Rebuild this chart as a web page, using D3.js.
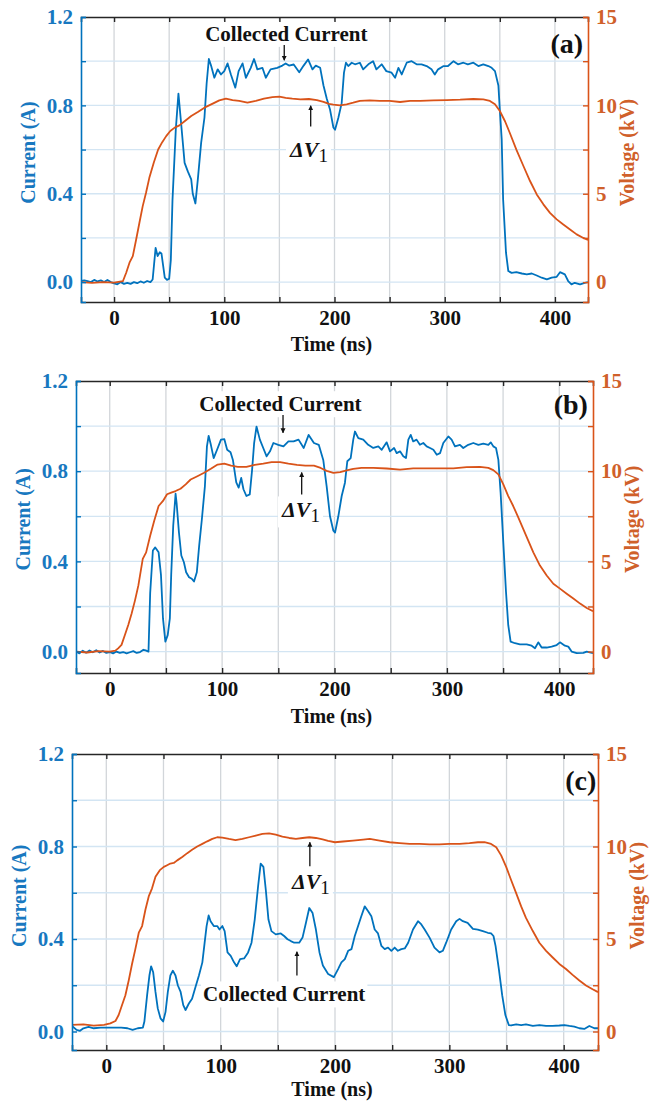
<!DOCTYPE html>
<html>
<head>
<meta charset="utf-8">
<script src="https://cdn.jsdelivr.net/npm/d3@7"></script>
<style>
  html, body { margin: 0; padding: 0; background: #fff; }
  svg text { font-family: "Liberation Serif", "Times New Roman", Times, serif; font-weight: bold; }
</style>
</head>
<body>
<svg id="fig" width="657" height="1103"></svg>
<script>
// ---- measured traces: [time (ns), collected current (A)] and [time (ns), voltage (kV)] ----
const currentA = [[-30,0.005],[-27,0.008],[-24,0.004],[-21,0.0],[-18,0.01],[-15,0.003],[-12,0.008],[-9,0.0],[-6,0.01],[-3,0.0],[0,-0.006],[3,-0.01],[6,0.0],[9,-0.008],[12,-0.003],[15,-0.008],[18,0.0],[21,-0.005],[24,0.003],[27,-0.003],[30,0.005],[33,0.0],[35,0.012],[37.7,0.155],[39.5,0.118],[41.5,0.135],[43,0.13],[46,0.02],[48,0.01],[50,0.015],[51.5,0.1],[53,0.37],[56,0.69],[58.4,0.853],[61,0.71],[64,0.54],[67,0.5],[70,0.465],[71.4,0.40],[73.8,0.356],[76,0.465],[79,0.63],[82,0.744],[84,0.9],[86,1.01],[88,0.98],[91,0.925],[94,0.963],[97,0.94],[100,0.955],[103,0.99],[106,0.94],[110,0.88],[113,0.955],[116.6,0.99],[119.6,0.925],[124,0.97],[127,1.01],[130,0.963],[134.6,0.97],[137.7,0.925],[142,0.963],[148,0.97],[152.7,0.98],[155.7,0.99],[158.7,0.98],[163,0.985],[168,0.95],[172,0.98],[176,1.008],[180,0.963],[183,0.98],[187,0.97],[190,0.89],[193,0.83],[196,0.78],[199,0.70],[200.5,0.69],[203.5,0.744],[206.5,0.81],[208.6,0.948],[210.4,0.993],[212.5,0.978],[215.6,0.993],[218.6,0.986],[223,0.993],[226,0.963],[230.7,0.986],[235,1.0],[238,0.963],[242.8,0.986],[247,0.955],[251.8,0.948],[255,0.925],[258,0.97],[261,0.94],[265.5,0.993],[270,1.0],[274.5,0.986],[279,0.986],[283.6,0.978],[288,0.963],[291,0.94],[294,0.963],[299,0.978],[303,0.978],[308,1.0],[312,0.986],[317,0.993],[321,0.986],[326,0.993],[330.5,0.978],[335,0.986],[339.6,0.978],[342.6,0.97],[345.6,0.955],[348.7,0.89],[350,0.78],[351.7,0.646],[353,0.374],[355.6,0.133],[357.7,0.05],[360.7,0.042],[365,0.045],[370,0.039],[374.5,0.035],[379,0.039],[383.5,0.03],[388,0.02],[392.7,0.012],[397,0.02],[401.6,0.024],[404.6,0.045],[409,0.035],[412,0.005],[415,-0.01],[418,-0.003],[422.8,-0.01],[427,-0.003],[430,0]];

const voltageA = [[-30,0.0],[-20,-0.04],[-10,0.0],[0,-0.03],[8,0.05],[11,0.53],[14,1.1],[17,1.47],[20,2.4],[23,3.36],[26,4.3],[29,5.06],[32,5.9],[36,6.75],[40,7.5],[43.7,7.92],[47.3,8.26],[51,8.55],[55,8.74],[59.3,8.87],[64,9.1],[70,9.4],[76,9.62],[82,9.87],[89.5,10.1],[95.5,10.28],[101.5,10.38],[107.5,10.3],[113.5,10.25],[121,10.15],[128.6,10.26],[136,10.38],[143.7,10.47],[150,10.49],[155.7,10.43],[161.7,10.38],[169,10.34],[176.8,10.36],[184,10.3],[190,10.2],[195,10.08],[199,10.04],[205,10.0],[211,10.06],[217,10.15],[223,10.25],[232,10.28],[241,10.26],[250,10.25],[259.5,10.19],[268.5,10.25],[277.6,10.26],[289.7,10.28],[301.8,10.3],[314,10.32],[326,10.36],[335,10.34],[341,10.25],[345.6,10.06],[350,9.68],[354.7,9.1],[359,8.45],[365,7.5],[371.4,6.57],[377.4,5.72],[383.5,4.96],[389.5,4.4],[395.5,3.92],[401.6,3.55],[407.6,3.26],[413.7,2.98],[419.7,2.7],[425.8,2.5],[430,2.38]];

const currentB = [[-30,0.0],[-27,-0.008],[-24,0.004],[-21,-0.005],[-18,0.005],[-15,-0.003],[-12,0.006],[-9,-0.004],[-6,0.003],[-3,-0.006],[0,-0.002],[3,-0.008],[6,0.0],[9,-0.006],[12,-0.002],[15,-0.008],[18,-0.003],[21,0.002],[24,-0.006],[27,-0.002],[30,0.008],[32,0.005],[34.5,0.0],[36,0.26],[38.4,0.448],[40.5,0.462],[43.5,0.44],[45.6,0.34],[47.4,0.147],[49.5,0.044],[51.6,0.073],[53.5,0.147],[54.7,0.34],[56.5,0.558],[58.6,0.7],[59.5,0.66],[61.6,0.528],[63.7,0.426],[66,0.396],[68,0.352],[70.6,0.33],[73,0.323],[75,0.311],[77.5,0.352],[79.6,0.47],[82,0.587],[84.7,0.734],[86.5,0.91],[88,0.957],[90,0.917],[92.5,0.858],[95.5,0.895],[99,0.94],[102,0.942],[104.5,0.895],[107.5,0.884],[109.6,0.85],[112.6,0.75],[114.7,0.727],[117,0.77],[119,0.72],[121.6,0.69],[124.6,0.697],[126.7,0.807],[128.5,0.925],[130.6,0.998],[133.6,0.94],[136.6,0.903],[139.6,0.866],[142.6,0.888],[145.6,0.925],[150,0.917],[154.6,0.91],[159,0.932],[163.6,0.932],[168,0.94],[172.6,0.903],[177,0.961],[181.7,0.925],[186,0.917],[190,0.85],[193,0.734],[196,0.6],[199,0.536],[200.5,0.528],[203.4,0.6],[206.4,0.69],[209.3,0.749],[211.4,0.844],[214.4,0.858],[216.7,0.94],[218.2,0.976],[221.2,0.947],[225.6,0.94],[230,0.917],[234.5,0.903],[239,0.91],[242,0.895],[246.4,0.928],[249.4,0.888],[253,0.903],[255.3,0.88],[258.3,0.888],[261.2,0.866],[263.6,0.858],[265.7,0.94],[267.8,0.961],[270,0.932],[273,0.94],[276,0.917],[279,0.925],[282,0.91],[285,0.903],[288,0.895],[291,0.873],[293.9,0.88],[296.8,0.925],[301.3,0.954],[304.2,0.94],[307.2,0.91],[311.6,0.917],[314.6,0.903],[319,0.917],[323.5,0.925],[328,0.917],[332.4,0.922],[336.9,0.917],[339,0.928],[341.3,0.91],[343.7,0.903],[345.8,0.85],[347.8,0.705],[350.2,0.484],[352.6,0.264],[354.6,0.117],[356.7,0.044],[360.6,0.037],[365,0.032],[371,0.032],[375.4,0.026],[378.4,0.015],[381.3,0.041],[384.3,0.018],[388.8,0.018],[393.2,0.022],[397.7,0.029],[400.6,0.041],[405,0.026],[408,0.022],[411,0.0],[415.5,-0.007],[421.4,-0.006],[424.4,0.0],[430,-0.007]];

const voltageB = [[-30,0.0],[-20,-0.05],[-10,0.02],[0,0.0],[5,0.05],[7.5,0.18],[10.5,0.37],[13.5,0.92],[16.5,1.47],[19.5,2.11],[22.5,2.84],[25.5,3.67],[29.4,5.14],[32.4,5.5],[36,6.42],[39.6,7.25],[43.5,8.07],[47.4,8.35],[51,8.72],[54.7,8.81],[58.6,8.9],[63,9.03],[67.6,9.27],[72,9.54],[78,9.72],[84,9.91],[90,10.13],[96,10.37],[102,10.42],[108,10.31],[114,10.24],[121.6,10.24],[129,10.35],[136.6,10.42],[144,10.5],[151.6,10.5],[159,10.42],[166.6,10.35],[174,10.31],[181.7,10.31],[187.7,10.18],[193,10.02],[199,9.91],[205,9.95],[210.8,10.04],[216.7,10.13],[224,10.18],[234.5,10.18],[246.4,10.15],[258.3,10.09],[270,10.16],[282,10.16],[294,10.16],[305.7,10.16],[317.6,10.22],[329.4,10.24],[336.9,10.18],[341.3,10.06],[345.8,9.82],[350.2,9.27],[354.6,8.62],[359,8.07],[363.6,7.43],[368,6.79],[372.4,6.15],[376.9,5.5],[382.8,4.77],[388.8,4.22],[394.7,3.76],[400.6,3.49],[406.6,3.21],[412.5,2.94],[418.5,2.66],[424.4,2.42],[430,2.24]];

const currentC = [[-30,0.024],[-26,0.007],[-23,0.003],[-20,0.014],[-15.5,0.02],[-11,0.014],[-5,0.017],[1,0.017],[7,0.017],[13,0.017],[18.5,0.014],[23,0.007],[27.5,0.014],[32,0.017],[33.3,0.043],[35.7,0.157],[37.7,0.242],[39.2,0.282],[41,0.256],[43,0.171],[45,0.1],[47.4,0.057],[49.7,0.043],[51.8,0.085],[53.8,0.171],[56,0.242],[58.2,0.263],[60.5,0.242],[62.6,0.199],[65,0.171],[67.3,0.114],[69.3,0.093],[72.2,0.121],[75,0.142],[78,0.192],[81,0.242],[84,0.299],[86,0.384],[87.7,0.456],[89.5,0.502],[91.2,0.477],[94,0.456],[97,0.456],[99,0.441],[101.5,0.456],[103.5,0.434],[106,0.342],[108.8,0.327],[111.7,0.299],[114,0.282],[117,0.313],[120.5,0.316],[124,0.342],[127,0.384],[129.8,0.484],[132.7,0.626],[135,0.726],[137.4,0.712],[139.5,0.612],[141.8,0.484],[144.4,0.434],[148.2,0.42],[152.6,0.424],[155.5,0.413],[158.5,0.399],[161.4,0.391],[164.3,0.384],[168.7,0.384],[171.6,0.406],[174.6,0.47],[177.5,0.534],[180.4,0.512],[183.3,0.441],[186.5,0.34],[189.4,0.285],[194,0.249],[199,0.235],[202.7,0.27],[205.6,0.299],[208.6,0.313],[211.5,0.349],[214.4,0.356],[217.3,0.413],[220.2,0.456],[223,0.498],[226,0.541],[229,0.52],[231.8,0.498],[234.7,0.441],[237.6,0.424],[240.6,0.37],[243.5,0.356],[246.4,0.363],[249.3,0.349],[252.2,0.363],[255,0.349],[258,0.356],[261,0.359],[264,0.384],[268.2,0.441],[272.6,0.477],[275.5,0.463],[278.4,0.441],[282.7,0.406],[287,0.363],[291.4,0.342],[294.3,0.349],[297.2,0.384],[301.6,0.441],[306,0.477],[308.9,0.487],[311.8,0.477],[316,0.47],[320.6,0.444],[324.9,0.441],[329.3,0.434],[333.6,0.427],[336.5,0.424],[338.6,0.413],[340.4,0.37],[343.3,0.27],[346.2,0.157],[349,0.071],[352,0.028],[354,0.026],[358.5,0.031],[362.8,0.028],[367,0.031],[373,0.024],[378.7,0.028],[384.6,0.024],[390.4,0.024],[396.2,0.026],[400.6,0.028],[405,0.024],[409.3,0.021],[413.7,0.014],[418,0.011],[422.4,0.024],[426.8,0.014],[430,0.014]];

const voltageC = [[-30,0.36],[-20,0.39],[-11,0.32],[-2,0.36],[3.5,0.44],[8,0.57],[10.8,0.89],[13.7,1.42],[16.7,1.96],[19.6,2.76],[22.5,3.65],[25.4,4.45],[28.4,5.34],[31.3,5.7],[34.2,6.58],[37.1,7.3],[40,7.74],[43,8.36],[46.8,8.72],[50.3,8.9],[53.2,8.99],[56,9.08],[59,9.11],[62,9.25],[66.4,9.43],[70.8,9.64],[75,9.82],[79.5,10.0],[84,10.14],[88.3,10.28],[92.7,10.41],[97,10.5],[101.5,10.48],[107.3,10.41],[113,10.35],[119,10.41],[124.8,10.5],[130.7,10.59],[136.5,10.68],[142.4,10.71],[148.2,10.64],[154,10.53],[160,10.46],[165.8,10.41],[171.6,10.46],[177.5,10.5],[183.3,10.46],[189.2,10.38],[194,10.3],[200,10.23],[207,10.27],[215.8,10.32],[224.6,10.37],[230.4,10.41],[239,10.32],[247.8,10.23],[256.5,10.18],[265.3,10.14],[274,10.14],[282.7,10.11],[291.4,10.11],[300,10.14],[309,10.14],[317.6,10.18],[325,10.23],[330.7,10.23],[336.5,10.14],[341,9.96],[345.3,9.52],[349.7,8.9],[354,8.19],[358.5,7.47],[362.8,6.76],[367,6.14],[373,5.43],[378.7,4.8],[384.6,4.36],[390.4,4.0],[396.2,3.65],[402,3.38],[407.8,3.06],[413.7,2.76],[419.5,2.49],[425.3,2.28],[430,2.13]];

// ---- axes ----
const timeDomain = [-30, 430];
const timeTicks = [0, 50, 100, 150, 200, 250, 300, 350, 400];
const timeLabels = [0, 100, 200, 300, 400];
const currentTicks = [0, 0.2, 0.4, 0.6, 0.8, 1.0, 1.2];
const currentLabels = [0, 0.4, 0.8, 1.2];
const currentMax = 1.2;
const voltagePerAmp = 12.5;           // 1.2 A  <->  15 kV
const voltageTicks = [0, 2.5, 5, 7.5, 10, 12.5, 15];
const voltageLabels = [0, 5, 10, 15];

const BLUE = "#0072BD", ORANGE = "#D95319";
const BLUE_TXT = "#1878c0", ORANGE_TXT = "#d0602a";

// ---- panel layout (pixel boxes) and annotation anchors (data coordinates) ----
const panels = [
  { tag: "(a)", current: currentA, voltage: voltageA, currentMin: -0.09,
    box: { left: 81, right: 588, top: 17, bottom: 302 }, timeTitleY: 351,
    note: { text: [82.7, 1.092], arrow: [154.4, 1.073, 1.004], dv: [159.6, 0.568], dvArrow: [178.4, 0.704, 0.798], tagAt: [425.5, 1.037] } },
  { tag: "(b)", current: currentB, voltage: voltageB, currentMin: -0.095,
    box: { left: 76, right: 593, top: 381, bottom: 673 }, timeTitleY: 723,
    note: { text: [79.7, 1.066], arrow: [154.2, 1.049, 0.97], dv: [153.3, 0.595], dvArrow: [170.8, 0.697, 0.794], tagAt: [425.5, 1.053] } },
  { tag: "(c)", current: currentC, voltage: voltageC, currentMin: -0.08,
    box: { left: 72, right: 598, top: 754, bottom: 1050 }, timeTitleY: 1096,
    note: { text: [84.6, 0.13], arrow: [166.7, 0.242, 0.345], dv: [162.3, 0.616], dvArrow: [178, 0.715, 0.818], tagAt: [428.5, 1.046] } }
];

const svg = d3.select("#fig");
const defs = svg.append("defs");
defs.append("marker")
  .attr("id", "head").attr("viewBox", "0 0 10 10")
  .attr("refX", 9).attr("refY", 5)
  .attr("markerWidth", 5).attr("markerHeight", 6)
  .attr("markerUnits", "userSpaceOnUse")
  .attr("orient", "auto")
  .append("path").attr("d", "M0,0 L10,5 L0,10 Z").attr("fill", "#111");

function addBackdrop(g, textSel, pad) {
  const b = textSel.node().getBBox();
  g.insert("rect", () => textSel.node())
    .attr("x", b.x - pad).attr("y", b.y - 1)
    .attr("width", b.width + 2 * pad).attr("height", b.height + 2)
    .attr("fill", "#fff");
}

panels.forEach((p, idx) => {
  const { left, right, top, bottom } = p.box;
  const x = d3.scaleLinear().domain(timeDomain).range([left, right]);
  const y = d3.scaleLinear().domain([p.currentMin, currentMax]).range([bottom, top]);
  const yv = d3.scaleLinear().domain([p.currentMin * voltagePerAmp, currentMax * voltagePerAmp]).range([bottom, top]);
  const g = svg.append("g");

  const clipId = "clip" + idx;
  defs.append("clipPath").attr("id", clipId)
    .append("rect").attr("x", left).attr("y", top).attr("width", right - left).attr("height", bottom - top);

  // grid
  g.append("g").selectAll("line").data(timeTicks).join("line")
    .attr("x1", d => x(d)).attr("x2", d => x(d)).attr("y1", top).attr("y2", bottom)
    .attr("stroke", "#d2d6da").attr("stroke-width", 1.3);
  g.append("g").selectAll("line").data(currentTicks.filter(v => v < currentMax)).join("line")
    .attr("x1", left).attr("x2", right).attr("y1", d => y(d)).attr("y2", d => y(d))
    .attr("stroke", "#d3e5f3").attr("stroke-width", 1.3);

  // traces
  const plot = g.append("g").attr("clip-path", `url(#${clipId})`);
  plot.append("path").datum(p.current)
    .attr("d", d3.line().x(d => x(d[0])).y(d => y(d[1])))
    .attr("fill", "none").attr("stroke", BLUE).attr("stroke-width", 1.8).attr("stroke-linejoin", "round");
  plot.append("path").datum(p.voltage)
    .attr("d", d3.line().x(d => x(d[0])).y(d => yv(d[1])))
    .attr("fill", "none").attr("stroke", ORANGE).attr("stroke-width", 1.8).attr("stroke-linejoin", "round");

  // annotations
  const n = p.note;
  const label = g.append("text").attr("x", x(n.text[0])).attr("y", y(n.text[1]))
    .attr("font-size", 21).attr("fill", "#111").text("Collected Current");
  addBackdrop(g, label, 2);
  g.append("line").attr("x1", x(n.arrow[0])).attr("x2", x(n.arrow[0]))
    .attr("y1", y(n.arrow[1])).attr("y2", y(n.arrow[2]))
    .attr("stroke", "#111").attr("stroke-width", 1.3).attr("marker-end", "url(#head)");

  const dv = g.append("text").attr("x", x(n.dv[0])).attr("y", y(n.dv[1]))
    .attr("font-size", 22).attr("fill", "#111");
  dv.append("tspan").attr("font-style", "italic").text("ΔV");
  dv.append("tspan").attr("dy", 5).attr("font-size", 19).attr("font-weight", "normal").text("1");
  addBackdrop(g, dv, 3);
  g.append("line").attr("x1", x(n.dvArrow[0])).attr("x2", x(n.dvArrow[0]))
    .attr("y1", y(n.dvArrow[1])).attr("y2", y(n.dvArrow[2]))
    .attr("stroke", "#111").attr("stroke-width", 1.3).attr("marker-end", "url(#head)");

  g.append("text").attr("x", x(n.tagAt[0])).attr("y", y(n.tagAt[1]))
    .attr("text-anchor", "end").attr("font-size", 28).attr("fill", "#111").text(p.tag);

  // axes: bottom / top (time)
  const tickLen = 5;
  const bottomAx = g.append("g").attr("transform", `translate(0,${bottom})`)
    .call(d3.axisBottom(x).tickValues(timeTicks).tickSize(-tickLen).tickPadding(8)
      .tickFormat(d => timeLabels.includes(d) ? d3.format("d")(d) : ""));
  const topAx = g.append("g").attr("transform", `translate(0,${top})`)
    .call(d3.axisTop(x).tickValues(timeTicks).tickSize(-tickLen).tickFormat(""));
  [bottomAx, topAx].forEach(a => {
    a.select(".domain").attr("stroke", "#262626").attr("stroke-width", 1.6);
    a.selectAll(".tick line").attr("stroke", "#262626").attr("stroke-width", 1.4);
  });
  bottomAx.selectAll(".tick text").attr("font-size", 21).attr("fill", "#111")
    .attr("font-family", "Liberation Serif, Times New Roman, serif").attr("font-weight", "bold").attr("dy", "0.72em");

  // left (current)
  const leftAx = g.append("g").attr("transform", `translate(${left},0)`)
    .call(d3.axisLeft(y).tickValues(currentTicks).tickSize(-tickLen).tickPadding(8)
      .tickFormat(d => currentLabels.some(v => Math.abs(v - d) < 1e-9) ? d3.format(".1f")(d) : ""));
  leftAx.select(".domain").attr("stroke", BLUE).attr("stroke-width", 1.6);
  leftAx.selectAll(".tick line").attr("stroke", BLUE).attr("stroke-width", 1.4);
  leftAx.selectAll(".tick text").attr("font-size", 21).attr("fill", BLUE_TXT)
    .attr("font-family", "Liberation Serif, Times New Roman, serif").attr("font-weight", "bold");

  // right (voltage)
  const rightAx = g.append("g").attr("transform", `translate(${right},0)`)
    .call(d3.axisRight(yv).tickValues(voltageTicks).tickSize(-tickLen).tickPadding(8)
      .tickFormat(d => voltageLabels.includes(d) ? d3.format("d")(d) : ""));
  rightAx.select(".domain").attr("stroke", ORANGE).attr("stroke-width", 1.6);
  rightAx.selectAll(".tick line").attr("stroke", ORANGE).attr("stroke-width", 1.4);
  rightAx.selectAll(".tick text").attr("font-size", 21).attr("fill", ORANGE_TXT)
    .attr("font-family", "Liberation Serif, Times New Roman, serif").attr("font-weight", "bold");

  // axis titles
  g.append("text").attr("x", (left + right) / 2 - 3).attr("y", p.timeTitleY)
    .attr("text-anchor", "middle").attr("font-size", 20).attr("fill", "#111").text("Time (ns)");
  const midY = (y(0) + y(currentMax)) / 2;
  g.append("text").attr("transform", `translate(${left - 46},${midY + 3}) rotate(-90)`)
    .attr("text-anchor", "middle").attr("font-size", 20).attr("fill", BLUE_TXT).text("Current (A)");
  g.append("text").attr("transform", `translate(${right + 46},${midY + 3}) rotate(-90)`)
    .attr("text-anchor", "middle").attr("font-size", 20).attr("fill", ORANGE_TXT).text("Voltage (kV)");
});
</script>
</body>
</html>
